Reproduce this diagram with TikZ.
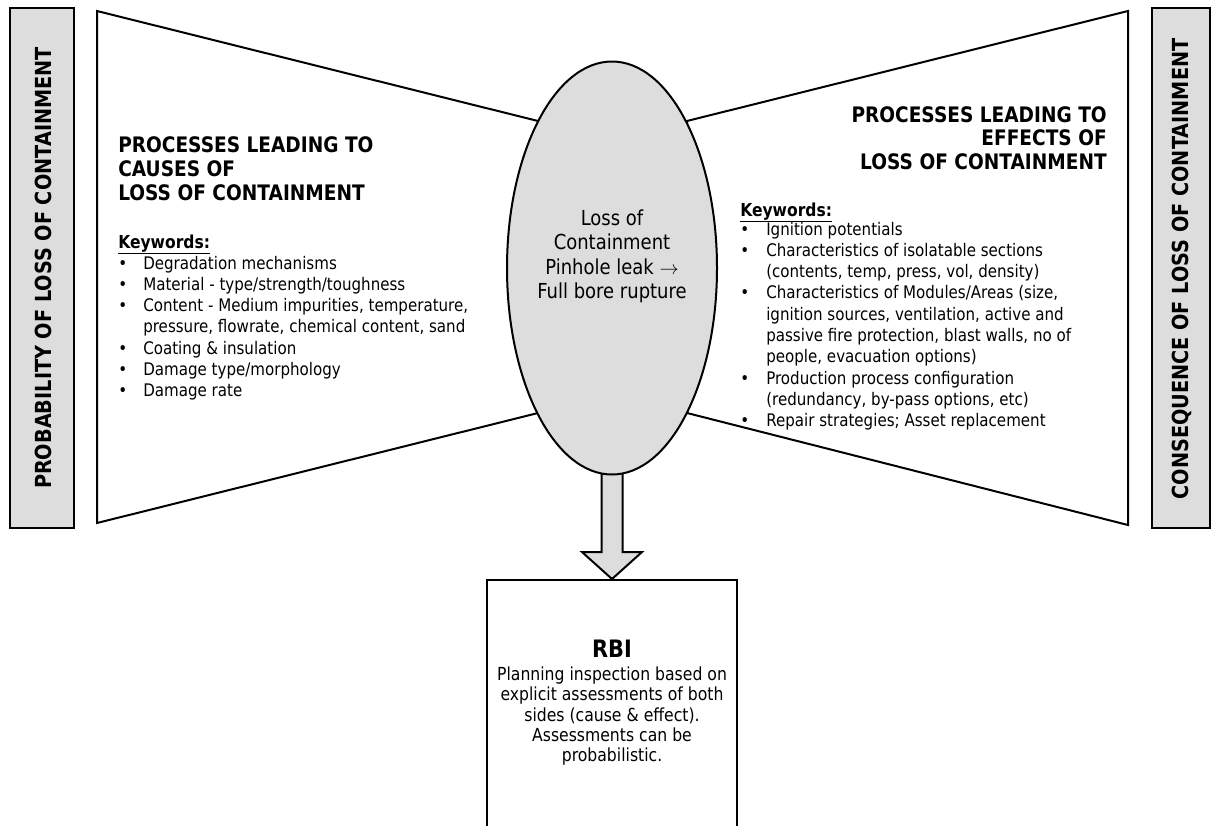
\documentclass[tikz,border=0pt]{standalone}
\usepackage{fontspec}
\setmainfont{DejaVu Sans}[FakeStretch=0.87]
\usetikzlibrary{shapes.geometric,calc}
\definecolor{boxgray}{RGB}{221,221,221}
\pgfdeclarelayer{background}
\pgfsetlayers{background,main}
\begin{document}
\begin{tikzpicture}[x=0.75pt,y=-0.75pt,
  edge/.style={draw=black,line width=1.5pt,line join=miter},
  body/.style={font=\fontsize{13}{16}\selectfont,inner sep=0pt},
  head/.style={font=\fontsize{16}{18}\selectfont\bfseries,inner sep=0pt},
  bartext/.style={font=\fontsize{16.6}{18}\selectfont\bfseries,inner sep=0pt},
  eltext/.style={font=\fontsize{15.5}{18}\selectfont,inner sep=0pt},
  small/.style={font=\fontsize{13.5}{15}\selectfont,inner sep=0pt},
  rbihead/.style={font=\fontsize{18}{20}\selectfont\bfseries,inner sep=0pt},
  kw/.style={font=\fontsize{13.4}{16}\selectfont\bfseries,inner sep=0pt}]
\useasboundingbox (0,0) rectangle (1212,825);
\clip (0,0) rectangle (1212,825);

% side bars
\draw[edge,fill=boxgray] (10,8) rectangle (74,528);
\node[bartext,rotate=90] (probtxt) at (43,268) {PROBABILITY OF LOSS OF CONTAINMENT};
\draw[edge,fill=boxgray] (1152,8) rectangle (1210,528);
\node[bartext,rotate=90] (constxt) at (1182,269) {CONSEQUENCE OF LOSS OF CONTAINMENT};

% bow-tie wings
\draw[edge,fill=white] (97,11) -- (538,121) -- (538,413) -- (97,523) -- cycle;
\draw[edge,fill=white] (1128,11) -- (687,121) -- (687,413) -- (1128,525) -- cycle;

% central event
\node[edge,fill=boxgray,ellipse,minimum width=157.5pt,minimum height=309.75pt,inner sep=0pt] (loc) at (612,268) {};
\foreach \t/\yy [count=\i] in {Loss of/225,Containment/249.5,Pinhole leak $\rightarrow$/274,Full bore rupture/298.5}
  \node[eltext,anchor=base] (loct\i) at (612,\yy) {\t};

% RBI box
\node[edge,fill=white,rectangle,minimum width=187.5pt,minimum height=210pt,anchor=north,inner sep=0pt] (rbi) at (612,579) {};
\node[rbihead,anchor=base] (rbit0) at (612,657) {RBI};
\foreach \t/\yy [count=\i] in {Planning inspection based on/680,explicit assessments of both/700.5,sides (cause \& effect)./721,Assessments can be/741,probabilistic./761}
  \node[small,anchor=base] (rbit\i) at (612,\yy) {\t};

% arrow from event to RBI
\begin{pgfonlayer}{background}
\draw[edge,fill=boxgray] ($(loc.south)+(-10.5,-10)$) -- ($(rbi.north)+(-10.5,-27)$) -- ($(rbi.north)+(-30,-27)$) -- (rbi.north) -- ($(rbi.north)+(30,-27)$) -- ($(rbi.north)+(10.5,-27)$) -- ($(loc.south)+(10.5,-10)$) -- cycle;
\end{pgfonlayer}

% left texts
\node[head,anchor=base west] (lh1) at (118,152) {PROCESSES LEADING TO};
\node[head,anchor=base west] (lh2) at (118,176) {CAUSES OF};
\node[head,anchor=base west] (lh3) at (118,200) {LOSS OF CONTAINMENT};
\node[kw,anchor=base west] (lkw) at (118,248) {\underline{Keywords:}};
\foreach \t [count=\i] in {Degradation mechanisms,Material - type/strength/toughness,{Content - Medium impurities, temperature,},{pressure, flowrate, chemical content, sand},Coating \& insulation,Damage type/morphology,Damage rate}
  \node[body,anchor=base west] (ll\i) at (143,{269+21.33*(\i-1)}) {\t};
\foreach \i in {1,2,3,5,6,7}
  \node[body,anchor=base west] (lb\i) at (118,{269+21.33*(\i-1)}) {•};

% right texts
\node[head,anchor=base east] (rh1) at (1107,122) {PROCESSES LEADING TO};
\node[head,anchor=base east] (rh2) at (1107,145.5) {EFFECTS OF};
\node[head,anchor=base east] (rh3) at (1107,169) {LOSS OF CONTAINMENT};
\node[kw,anchor=base west] (rkw) at (740,216) {\underline{Keywords:}};
\foreach \t [count=\i] in {Ignition potentials,Characteristics of isolatable sections,{(contents, temp, press, vol, density)},{Characteristics of Modules/Areas (size,},{ignition sources, ventilation, active and},{passive fire protection, blast walls, no of},{people, evacuation options)},Production process configuration,{(redundancy, by-pass options, etc)},Repair strategies; Asset replacement}
  \node[body,anchor=base west] (rl\i) at (766,{235+21.33*(\i-1)}) {\t};
\foreach \i in {1,2,4,8,10}
  \node[body,anchor=base west] (rb\i) at (740,{235+21.33*(\i-1)}) {•};
\end{tikzpicture}
\end{document}
